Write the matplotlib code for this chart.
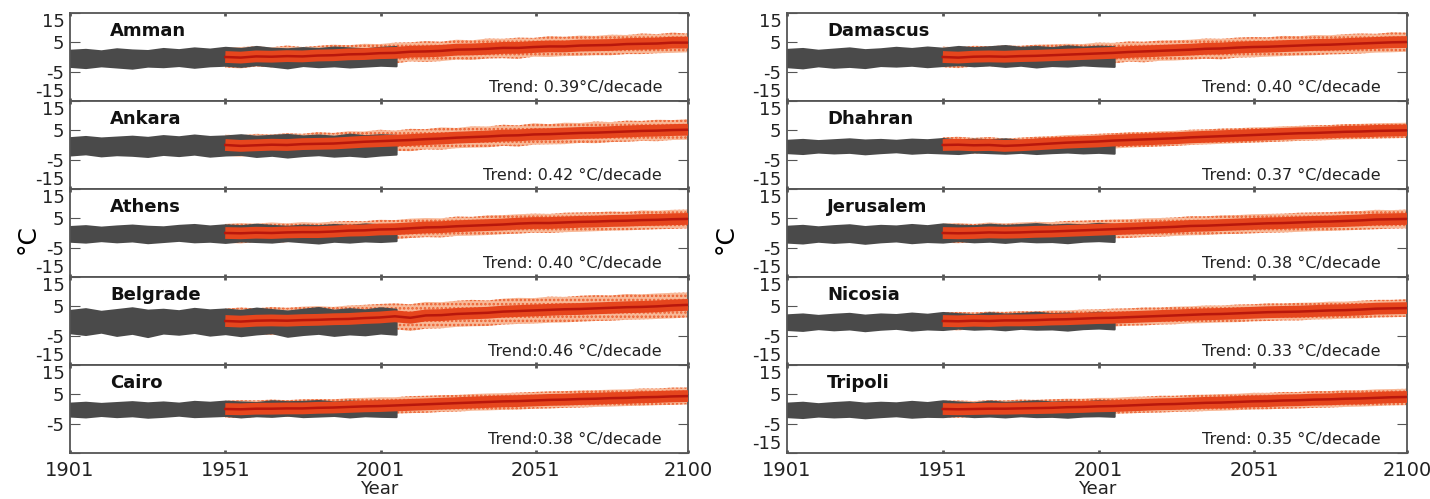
import numpy as np
import matplotlib
matplotlib.use("Agg")
import matplotlib.pyplot as plt

# year positions of the envelope / trend values
obs_years = np.linspace(1901, 2006, 22)
mod_years = np.linspace(1951, 2100, 31)

# ---- left column ----
amman_obs_hi = [2.3, 2.6, 2.1, 2.8, 2.4, 2.2, 2.9, 2.5, 3.1, 2.7, 3.3, 2.9, 3.6, 3.0, 2.8, 3.2, 2.9, 3.4, 3.1, 2.8, 3.3, 3.6]
amman_obs_lo = [-3.2, -3.6, -3.0, -3.4, -3.8, -3.1, -3.3, -2.9, -3.5, -3.0, -2.8, -3.2, -2.6, -3.1, -3.7, -2.9, -3.3, -3.0, -3.4, -3.1, -2.8, -3.0]
amman_mod = [0.0, -0.2, 0.2, 0.1, 0.3, 0.2, 0.5, 0.6, 0.9, 1.0, 1.3, 1.4, 1.8, 1.9, 2.1, 2.5, 2.6, 2.8, 3.1, 3.1, 3.4, 3.6, 3.6, 3.9, 4.0, 4.1, 4.4, 4.5, 4.6, 4.9, 4.9]
amman_mod_hi = [3.2, 3.4, 3.6, 3.3, 3.9, 3.4, 3.8, 4.2, 4.0, 4.5, 4.4, 4.9, 5.0, 5.4, 5.2, 5.9, 5.7, 6.3, 6.2, 6.6, 6.5, 7.1, 6.9, 7.3, 7.2, 7.6, 7.5, 8.0, 7.8, 8.3, 8.0]
amman_mod_lo = [-3.6, -3.9, -3.2, -3.5, -3.0, -3.4, -2.8, -3.0, -2.4, -2.6, -2.1, -2.2, -1.5, -1.7, -1.4, -0.9, -1.0, -0.5, -0.4, -0.6, 0.1, 0.0, 0.3, 0.4, 0.6, 0.6, 1.0, 1.0, 1.3, 1.4, 1.6]

ankara_obs_hi = [2.5, 2.9, 2.4, 2.7, 3.0, 2.6, 3.2, 2.8, 3.4, 2.9, 3.1, 3.5, 3.0, 3.3, 3.6, 3.1, 3.4, 3.0, 3.7, 3.2, 3.5, 3.3]
ankara_obs_lo = [-3.4, -3.0, -3.7, -3.3, -3.5, -3.9, -3.2, -3.6, -3.1, -3.8, -3.4, -3.2, -3.9, -3.5, -4.1, -3.6, -3.3, -3.8, -3.5, -3.9, -3.4, -3.1]
ankara_mod = [0.0, -0.3, -0.1, 0.1, 0.0, 0.3, 0.4, 0.5, 0.8, 1.1, 1.3, 1.5, 1.7, 2.0, 2.2, 2.5, 2.7, 2.9, 3.2, 3.3, 3.6, 3.7, 3.9, 4.1, 4.2, 4.4, 4.6, 4.8, 4.9, 5.1, 5.2]
ankara_mod_hi = [3.5, 3.3, 3.8, 3.6, 4.0, 3.8, 4.4, 4.1, 4.7, 4.6, 5.2, 4.9, 5.5, 5.4, 6.0, 5.8, 6.4, 6.3, 6.9, 6.7, 7.4, 7.1, 7.6, 7.5, 8.0, 7.8, 8.3, 8.2, 8.6, 8.5, 8.8]
ankara_mod_lo = [-3.7, -4.0, -3.5, -3.6, -3.9, -3.2, -3.4, -3.0, -2.9, -2.5, -2.4, -2.0, -2.1, -1.5, -1.6, -1.1, -0.9, -0.8, -0.3, -0.5, 0.1, 0.2, 0.3, 0.7, 0.6, 1.0, 1.1, 1.4, 1.3, 1.7, 1.8]

athens_obs_hi = [2.2, 2.5, 2.0, 2.4, 2.7, 2.3, 2.1, 2.6, 2.9, 2.4, 2.8, 2.5, 3.0, 2.6, 2.3, 2.7, 2.5, 2.9, 2.6, 3.1, 2.8, 2.6]
athens_obs_lo = [-2.8, -3.1, -2.6, -3.0, -2.7, -3.3, -2.9, -2.5, -3.0, -2.8, -3.2, -2.7, -2.9, -3.1, -2.6, -3.0, -3.4, -2.8, -3.1, -2.7, -2.9, -2.6]
athens_mod = [0.0, -0.1, 0.1, 0.0, 0.2, 0.3, 0.3, 0.5, 0.8, 0.9, 1.2, 1.3, 1.6, 1.9, 2.0, 2.3, 2.5, 2.7, 2.9, 3.2, 3.4, 3.4, 3.6, 3.8, 3.9, 4.1, 4.2, 4.4, 4.5, 4.7, 4.8]
athens_mod_hi = [3.1, 3.4, 3.2, 3.6, 3.3, 3.7, 3.5, 3.9, 4.1, 4.0, 4.5, 4.4, 4.9, 5.1, 5.0, 5.6, 5.5, 6.0, 6.1, 6.4, 6.6, 6.5, 6.9, 7.0, 7.1, 7.3, 7.2, 7.7, 7.6, 7.9, 8.0]
athens_mod_lo = [-3.3, -3.6, -3.0, -3.4, -3.1, -2.9, -3.2, -2.7, -2.5, -2.6, -2.0, -2.1, -1.7, -1.4, -1.5, -1.0, -0.9, -0.7, -0.4, -0.2, 0.1, 0.0, 0.3, 0.4, 0.6, 0.8, 0.9, 1.1, 1.3, 1.4, 1.6]

belgrade_obs_hi = [3.6, 4.2, 3.3, 3.9, 4.5, 3.7, 4.0, 3.5, 4.3, 3.8, 4.1, 3.6, 4.4, 3.9, 3.4, 4.0, 4.6, 3.7, 4.2, 3.8, 4.5, 4.0]
belgrade_obs_lo = [-4.0, -4.6, -3.8, -4.9, -4.2, -5.3, -4.1, -4.5, -3.9, -4.8, -4.3, -5.0, -4.4, -4.0, -5.2, -4.6, -4.2, -4.9, -4.4, -4.7, -4.1, -4.5]
belgrade_mod = [0.0, -0.2, 0.1, 0.2, 0.1, 0.3, 0.4, 0.6, 0.7, 1.0, 1.2, 1.6, 1.1, 1.9, 2.0, 2.4, 2.6, 2.8, 3.2, 3.4, 3.6, 3.8, 4.0, 4.1, 4.3, 4.5, 4.7, 4.8, 5.0, 5.3, 5.5]
belgrade_mod_hi = [4.2, 4.6, 4.3, 4.8, 4.5, 4.9, 5.1, 4.8, 5.3, 5.5, 5.8, 6.0, 5.7, 6.5, 6.4, 6.9, 7.2, 7.0, 7.6, 7.9, 7.8, 8.3, 8.2, 8.6, 8.8, 8.7, 9.2, 9.1, 9.4, 9.6, 9.7]
belgrade_mod_lo = [-4.6, -5.2, -4.3, -4.8, -4.5, -4.1, -4.4, -3.9, -3.7, -3.5, -3.3, -2.8, -3.4, -2.6, -2.5, -2.0, -1.8, -1.7, -1.2, -1.0, -0.9, -0.6, -0.5, -0.2, 0.0, 0.1, 0.4, 0.5, 0.7, 0.9, 1.2]

cairo_obs_hi = [2.0, 2.3, 1.9, 2.2, 2.5, 2.1, 2.4, 2.0, 2.6, 2.3, 2.7, 2.4, 2.2, 2.8, 2.5, 2.6, 2.9, 2.4, 2.7, 2.5, 2.8, 2.6]
cairo_obs_lo = [-2.4, -2.7, -2.2, -2.6, -2.3, -2.8, -2.5, -2.1, -2.6, -2.4, -2.2, -2.7, -2.3, -2.5, -2.1, -2.6, -2.4, -2.2, -2.7, -2.3, -2.5, -2.6]
cairo_mod = [0.0, -0.1, 0.1, 0.1, 0.2, 0.2, 0.4, 0.5, 0.7, 0.9, 1.0, 1.2, 1.4, 1.6, 1.8, 2.0, 2.2, 2.4, 2.6, 2.7, 2.9, 3.1, 3.2, 3.4, 3.5, 3.7, 3.8, 4.0, 4.1, 4.3, 4.4]
cairo_mod_hi = [2.8, 3.0, 2.9, 3.2, 3.0, 3.3, 3.4, 3.3, 3.7, 3.8, 4.0, 4.0, 4.4, 4.5, 4.7, 4.8, 5.1, 5.3, 5.4, 5.6, 5.8, 6.0, 6.1, 6.3, 6.4, 6.6, 6.7, 7.0, 7.0, 7.3, 7.3]
cairo_mod_lo = [-2.9, -3.1, -2.7, -2.8, -2.6, -2.7, -2.3, -2.4, -2.1, -1.9, -1.8, -1.6, -1.4, -1.3, -1.0, -0.9, -0.6, -0.5, -0.3, -0.2, 0.1, 0.2, 0.4, 0.5, 0.7, 0.8, 1.0, 1.1, 1.3, 1.4, 1.6]

# ---- right column ----
damascus_obs_hi = [2.6, 2.9, 2.3, 2.7, 3.1, 2.5, 2.8, 3.3, 2.9, 3.4, 3.0, 3.6, 3.2, 3.5, 3.9, 3.3, 3.6, 3.2, 3.8, 3.4, 3.7, 3.5]
damascus_obs_lo = [-3.3, -3.7, -3.0, -3.5, -3.2, -3.6, -2.9, -3.1, -2.8, -3.3, -2.9, -2.6, -3.0, -2.7, -3.2, -2.8, -3.4, -2.9, -3.1, -2.7, -3.0, -3.2]
damascus_mod = [0.0, -0.2, 0.1, 0.2, 0.1, 0.3, 0.4, 0.6, 0.8, 1.0, 1.2, 1.4, 1.7, 1.9, 2.1, 2.3, 2.5, 2.8, 2.9, 3.2, 3.4, 3.5, 3.7, 3.9, 4.1, 4.2, 4.4, 4.6, 4.8, 5.0, 5.1]
damascus_mod_hi = [3.5, 3.3, 3.8, 3.7, 3.9, 3.8, 4.2, 4.3, 4.5, 4.4, 4.9, 4.8, 5.3, 5.2, 5.6, 5.7, 5.9, 6.3, 6.2, 6.6, 6.8, 6.7, 7.2, 7.1, 7.5, 7.4, 7.8, 8.0, 7.9, 8.4, 8.3]
damascus_mod_lo = [-3.5, -3.8, -3.2, -3.1, -3.4, -3.0, -2.8, -2.9, -2.4, -2.6, -2.1, -2.2, -1.6, -1.8, -1.3, -1.2, -0.9, -0.6, -0.8, -0.2, -0.1, 0.1, 0.3, 0.5, 0.6, 0.9, 1.0, 1.2, 1.5, 1.6, 1.8]

dhahran_obs_hi = [1.6, 1.9, 1.5, 1.8, 2.1, 1.7, 1.9, 1.6, 2.0, 1.8, 2.2, 1.7, 2.0, 1.8, 2.1, 1.6, 1.9, 2.2, 1.8, 2.0, 1.7, 2.1]
dhahran_obs_lo = [-2.6, -2.9, -2.4, -2.7, -2.5, -3.0, -2.6, -2.3, -2.8, -2.5, -2.7, -2.9, -2.4, -2.6, -2.8, -2.5, -2.9, -2.6, -2.4, -2.7, -2.5, -2.8]
dhahran_mod = [0.0, 0.1, -0.1, 0.0, -0.3, -0.1, 0.2, 0.5, 0.8, 1.0, 1.2, 1.5, 1.7, 1.9, 2.1, 2.3, 2.6, 2.8, 3.0, 3.2, 3.4, 3.6, 3.8, 4.0, 4.1, 4.3, 4.5, 4.6, 4.8, 4.9, 5.0]
dhahran_mod_hi = [2.6, 2.8, 2.4, 2.7, 2.2, 2.5, 2.8, 3.0, 3.4, 3.5, 3.8, 4.0, 4.3, 4.4, 4.7, 4.8, 5.2, 5.3, 5.6, 5.7, 6.0, 6.1, 6.4, 6.5, 6.7, 6.8, 7.1, 7.2, 7.4, 7.5, 7.6]
dhahran_mod_lo = [-2.7, -2.5, -2.9, -2.7, -3.0, -2.6, -2.4, -2.2, -1.8, -1.6, -1.4, -1.2, -0.9, -0.7, -0.5, -0.3, 0.0, 0.2, 0.4, 0.6, 0.8, 1.0, 1.2, 1.4, 1.5, 1.7, 1.9, 2.0, 2.2, 2.3, 2.4]

jerusalem_obs_hi = [2.3, 2.6, 2.1, 2.5, 2.8, 2.2, 2.6, 2.4, 2.9, 2.5, 3.1, 2.7, 2.5, 3.0, 2.6, 2.9, 3.2, 2.7, 3.0, 2.8, 3.3, 2.9]
jerusalem_obs_lo = [-3.1, -3.4, -2.8, -3.2, -2.9, -3.5, -3.0, -2.7, -3.3, -2.9, -3.1, -2.6, -3.0, -2.8, -3.2, -2.7, -3.0, -2.9, -3.3, -2.8, -2.6, -2.9]
jerusalem_mod = [0.0, -0.1, 0.0, 0.2, 0.1, 0.2, 0.4, 0.5, 0.7, 0.9, 1.1, 1.3, 1.5, 1.7, 1.9, 2.1, 2.4, 2.5, 2.7, 2.9, 3.1, 3.3, 3.4, 3.6, 3.8, 3.9, 4.1, 4.3, 4.6, 4.7, 4.8]
jerusalem_mod_hi = [3.2, 3.4, 3.1, 3.6, 3.3, 3.6, 3.8, 3.7, 4.1, 4.2, 4.4, 4.6, 4.7, 5.0, 5.1, 5.3, 5.7, 5.7, 6.0, 6.1, 6.4, 6.5, 6.6, 6.9, 7.0, 7.1, 7.4, 7.5, 7.9, 7.8, 8.0]
jerusalem_mod_lo = [-3.3, -3.5, -3.1, -3.0, -3.2, -2.9, -2.8, -2.6, -2.5, -2.2, -2.1, -1.8, -1.7, -1.4, -1.3, -1.0, -0.8, -0.7, -0.4, -0.3, -0.1, 0.1, 0.2, 0.4, 0.6, 0.7, 0.9, 1.1, 1.3, 1.5, 1.6]

nicosia_obs_hi = [2.1, 2.4, 1.9, 2.3, 2.6, 2.0, 2.4, 2.2, 2.7, 2.3, 2.9, 2.5, 2.2, 2.8, 2.4, 2.6, 3.0, 2.5, 2.7, 2.5, 3.0, 2.7]
nicosia_obs_lo = [-2.9, -3.2, -2.6, -3.0, -2.7, -3.3, -2.8, -2.5, -3.1, -2.7, -2.9, -2.4, -2.8, -2.6, -3.0, -2.5, -2.8, -2.7, -3.1, -2.6, -2.4, -2.7]
nicosia_mod = [0.0, -0.1, 0.1, 0.0, 0.2, 0.2, 0.3, 0.5, 0.6, 0.8, 1.0, 1.1, 1.3, 1.5, 1.7, 1.9, 2.1, 2.3, 2.4, 2.6, 2.8, 3.0, 3.1, 3.2, 3.4, 3.6, 3.7, 3.9, 4.2, 4.3, 4.4]
nicosia_mod_hi = [2.9, 3.1, 2.9, 3.2, 3.1, 3.4, 3.3, 3.6, 3.6, 3.9, 4.0, 4.2, 4.3, 4.6, 4.6, 4.9, 5.0, 5.3, 5.3, 5.6, 5.7, 6.0, 6.0, 6.2, 6.3, 6.6, 6.6, 6.9, 7.2, 7.2, 7.4]
nicosia_mod_lo = [-3.0, -3.2, -2.8, -3.0, -2.7, -2.9, -2.6, -2.5, -2.3, -2.2, -1.9, -1.9, -1.6, -1.5, -1.2, -1.1, -0.8, -0.7, -0.5, -0.4, -0.1, 0.0, 0.2, 0.2, 0.5, 0.6, 0.8, 0.9, 1.2, 1.3, 1.4]

tripoli_obs_hi = [2.0, 2.3, 1.8, 2.2, 2.5, 2.0, 2.3, 2.1, 2.6, 2.2, 2.8, 2.4, 2.1, 2.7, 2.3, 2.5, 2.8, 2.4, 2.6, 2.4, 2.9, 2.6]
tripoli_obs_lo = [-2.6, -2.9, -2.4, -2.7, -2.5, -3.0, -2.6, -2.3, -2.8, -2.5, -2.6, -2.2, -2.6, -2.4, -2.7, -2.3, -2.6, -2.5, -2.8, -2.4, -2.3, -2.5]
tripoli_mod = [0.0, -0.1, 0.0, 0.1, 0.1, 0.2, 0.3, 0.4, 0.6, 0.7, 0.9, 1.0, 1.2, 1.4, 1.6, 1.7, 1.9, 2.1, 2.2, 2.4, 2.6, 2.7, 2.9, 3.0, 3.2, 3.3, 3.5, 3.6, 3.8, 4.0, 4.1]
tripoli_mod_hi = [2.8, 2.9, 2.7, 3.0, 2.9, 3.2, 3.1, 3.3, 3.5, 3.5, 3.8, 3.8, 4.1, 4.2, 4.5, 4.5, 4.8, 4.9, 5.1, 5.2, 5.5, 5.5, 5.8, 5.8, 6.1, 6.1, 6.4, 6.4, 6.7, 6.8, 6.9]
tripoli_mod_lo = [-2.8, -3.0, -2.7, -2.7, -2.6, -2.5, -2.4, -2.3, -2.1, -2.0, -1.8, -1.7, -1.5, -1.3, -1.2, -1.0, -0.9, -0.7, -0.6, -0.4, -0.2, -0.1, 0.1, 0.2, 0.4, 0.5, 0.7, 0.8, 1.0, 1.2, 1.3]

left_names = ["Amman", "Ankara", "Athens", "Belgrade", "Cairo"]
left_trends = ["Trend: 0.39°C/decade", "Trend: 0.42 °C/decade", "Trend: 0.40 °C/decade",
               "Trend:0.46 °C/decade", "Trend:0.38 °C/decade"]
right_names = ["Damascus", "Dhahran", "Jerusalem", "Nicosia", "Tripoli"]
right_trends = ["Trend: 0.40 °C/decade", "Trend: 0.37 °C/decade", "Trend: 0.38 °C/decade",
                "Trend: 0.33 °C/decade", "Trend: 0.35 °C/decade"]

left_data = [
    (amman_obs_hi, amman_obs_lo, amman_mod, amman_mod_hi, amman_mod_lo),
    (ankara_obs_hi, ankara_obs_lo, ankara_mod, ankara_mod_hi, ankara_mod_lo),
    (athens_obs_hi, athens_obs_lo, athens_mod, athens_mod_hi, athens_mod_lo),
    (belgrade_obs_hi, belgrade_obs_lo, belgrade_mod, belgrade_mod_hi, belgrade_mod_lo),
    (cairo_obs_hi, cairo_obs_lo, cairo_mod, cairo_mod_hi, cairo_mod_lo),
]
right_data = [
    (damascus_obs_hi, damascus_obs_lo, damascus_mod, damascus_mod_hi, damascus_mod_lo),
    (dhahran_obs_hi, dhahran_obs_lo, dhahran_mod, dhahran_mod_hi, dhahran_mod_lo),
    (jerusalem_obs_hi, jerusalem_obs_lo, jerusalem_mod, jerusalem_mod_hi, jerusalem_mod_lo),
    (nicosia_obs_hi, nicosia_obs_lo, nicosia_mod, nicosia_mod_hi, nicosia_mod_lo),
    (tripoli_obs_hi, tripoli_obs_lo, tripoli_mod, tripoli_mod_hi, tripoli_mod_lo),
]

xticks = [1901, 1951, 2001, 2051, 2100]
yticks = [-15, -5, 5, 15]

W, H = 1430, 499
fig = plt.figure(figsize=(W / 100, H / 100), dpi=100)
plt.rcParams["hatch.linewidth"] = 1.2

top_px, bot_px = 13, 453
ph = (bot_px - top_px) / 5


def panel(left_px, right_px, i, name, trend, d, last, show_bottom_label):
    obs_hi, obs_lo, mod, mod_hi, mod_lo = d
    y0 = top_px + i * ph
    ax = fig.add_axes([left_px / W, 1 - (y0 + ph) / H, (right_px - left_px) / W, ph / H])
    # model spread (speckled orange cloud)
    ax.fill_between(mod_years, mod_lo, mod_hi, facecolor="#f8b998", edgecolor="#ec6030",
                    hatch="....", lw=0, zorder=1)
    # observations (grey cloud)
    ax.fill_between(obs_years, obs_lo, obs_hi, facecolor="#4a4a4a", edgecolor="#4a4a4a",
                    lw=1.5, zorder=2)
    # dense model core and smoothed trend line
    ax.plot(mod_years, mod, color="#e6461d", lw=8.5, solid_capstyle="butt", zorder=3)
    ax.plot(mod_years, mod, color="#b8170c", lw=1.8, zorder=4)
    ax.set_xlim(1901, 2100)
    ax.set_ylim(-15, 15)
    ax.set_xticks(xticks)
    ax.set_yticks(yticks)
    labs = ["-15" if show_bottom_label else "", "-5", "5", "15"]
    ax.set_yticklabels(labs, fontsize=13)
    tl = ax.get_yticklabels()
    tl[0].set_verticalalignment("bottom")
    tl[3].set_verticalalignment("top")
    ax.tick_params(axis="y", direction="in", length=7, left=True, right=True,
                   color="#555555", pad=4, labelcolor="#222222")
    ax.tick_params(axis="x", direction="in", length=2.5, width=2, top=True, bottom=True,
                   color="#555555", labelbottom=last, labelsize=14, pad=6, labelcolor="#222222")
    for s in ax.spines.values():
        s.set_color("#555555")
        s.set_linewidth(1.3)
    ax.text(0.065, 0.80, name, transform=ax.transAxes, fontsize=13, fontweight="bold",
            ha="left", va="center", color="#111111")
    ax.text(0.958, 0.15, trend, transform=ax.transAxes, fontsize=11.5,
            ha="right", va="center", color="#222222")
    return ax


for i in range(5):
    panel(70, 688, i, left_names[i], left_trends[i], left_data[i], i == 4, i < 4)
    panel(787, 1407, i, right_names[i], right_trends[i], right_data[i], i == 4, True)

fig.text(28 / W, 0.52, "°C", rotation=90, fontsize=18, ha="center", va="center")
fig.text(726 / W, 0.52, "°C", rotation=90, fontsize=18, ha="center", va="center")
fig.text(379 / W, 1 - 489 / H, "Year", fontsize=13, ha="center", va="center", color="#222222")
fig.text(1097 / W, 1 - 489 / H, "Year", fontsize=13, ha="center", va="center", color="#222222")

fig.savefig("out.png", dpi=100)
